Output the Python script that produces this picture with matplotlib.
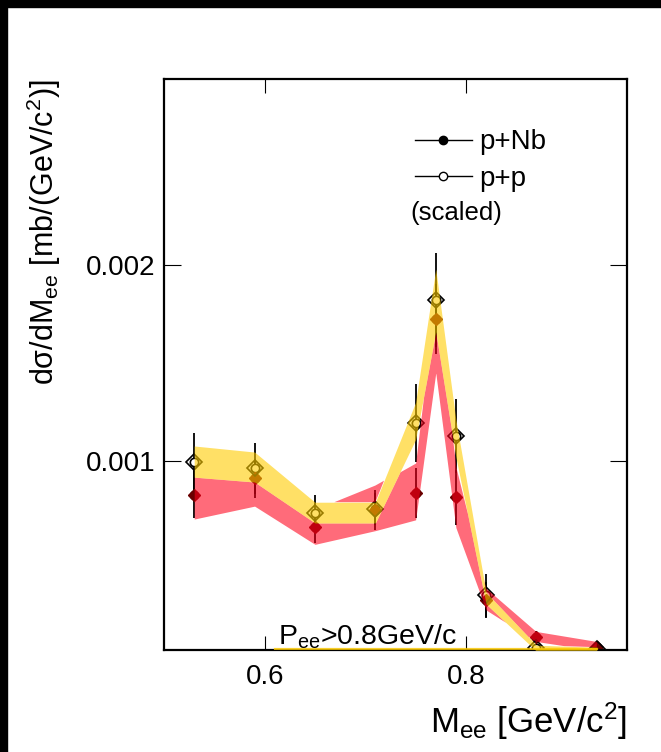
import matplotlib
matplotlib.use("Agg")
import matplotlib.pyplot as plt
import numpy as np
from matplotlib.lines import Line2D
from matplotlib.patches import Rectangle

plt.rcParams['font.family'] = ['Liberation Sans', 'DejaVu Sans']
plt.rcParams['mathtext.fontset'] = 'custom'
plt.rcParams['mathtext.rm'] = 'Liberation Sans'
plt.rcParams['mathtext.default'] = 'regular'

# bin centres (GeV/c^2)
mass = [0.53, 0.59, 0.65, 0.71, 0.75, 0.77, 0.79, 0.82, 0.87, 0.93]

# p+Nb data and stat errors
pnb = [0.000827, 0.000913, 0.000663, 0.00075, 0.000837, 0.001724, 0.000816, 0.000291, 0.000102, 0.00005]
pnb_err = [0.00012, 0.0001, 0.00008, 0.0001, 0.00013, 0.00018, 0.00014, 0.00009, 0.00003, 0.00001]
# p+p (scaled) data and stat errors
pp = [0.000995, 0.000964, 0.000735, 0.000755, 0.001194, 0.001821, 0.001128, 0.000316, 0.000045, 0.00004]
pp_err = [0.00015, 0.00013, 0.00009, 0.00008, 0.0002, 0.00024, 0.00019, 0.00011, 0.00002, 0.00001]

# systematic bands
red_lo = [0.000704, 0.00077, 0.000575, 0.000645, 0.0007, 0.00145, 0.00066, 0.00024, 0.000077, 0.00003]
red_hi = [0.00093, 0.00097, 0.00075, 0.000875, 0.00099, 0.00185, 0.00097, 0.00035, 0.000128, 0.000077]
yel_lo = [0.000918, 0.000893, 0.000684, 0.000684, 0.00111, 0.00166, 0.00102, 0.00027, 0.00003, 0.00003]
yel_hi = [0.001077, 0.001046, 0.00079, 0.00079, 0.0013, 0.00198, 0.00121, 0.00033, 0.00006, 0.00005]

# thin yellow line lying on the x axis
base_x = [0.61, 0.93]
base_y = [0.00004, 0.00004]

RED = (1.0, 0.0, 0.1)
YEL = (1.0, 0.8, 0.0)

fig = plt.figure(figsize=(6.61, 7.52), dpi=100)
ax = fig.add_axes([164/661, 1 - 650/752, 463/661, 571/752])

# data points first (bands go over them like the ROOT fill patterns)
ax.errorbar(mass, pnb, yerr=pnb_err, fmt='o', color='black', ms=6, lw=1.3,
            capsize=0, zorder=2)
ax.errorbar(mass, pp, yerr=pp_err, fmt='o', color='black', mfc='white', ms=6,
            mew=1.2, lw=1.3, capsize=0, zorder=2)
ax.plot(mass, pnb, 'D', color='#6a0000', ms=6.5, ls='none', zorder=2.5)
ax.plot(mass, pp, 'D', mfc='none', mec='black', mew=1.2, ms=8, ls='none', zorder=2.5)

# red band only where the yellow band does not sit on top of it
xg = np.linspace(mass[0], mass[-1], 3000)
rl = np.interp(xg, mass, red_lo)
rh = np.interp(xg, mass, red_hi)
yl = np.interp(xg, mass, yel_lo)
yh = np.interp(xg, mass, yel_hi)
up_lo = np.maximum(rl, yh)
ax.fill_between(xg, up_lo, rh, where=rh > up_lo, color=RED, alpha=0.58, lw=0, zorder=3)
dn_hi = np.minimum(rh, yl)
ax.fill_between(xg, rl, dn_hi, where=dn_hi > rl, color=RED, alpha=0.58, lw=0, zorder=3)
ax.fill_between(mass, yel_lo, yel_hi, color=YEL, alpha=0.6, lw=0, zorder=4)
ax.plot(base_x, base_y, color=YEL, lw=1.6, alpha=0.8, zorder=4)

ax.set_xlim(0.5, 0.96)
ax.set_ylim(0.0000357, 0.00295)
ax.set_xticks([0.6, 0.8])
ax.set_xticklabels(['0.6', '0.8'])
ax.set_yticks([0.001, 0.002])
ax.set_yticklabels(['0.001', '0.002'])

for s in ax.spines.values():
    s.set_linewidth(1.6)
ax.tick_params(axis='both', direction='in', top=True, right=True, width=0.8,
               labelsize=20, colors='black')
ax.tick_params(axis='y', length=12, pad=6)
ax.tick_params(axis='x', length=10, pad=10)

ax.set_xlabel(r'M$_{ee}$ [GeV/c$^{2}$]', fontsize=25, loc='right')
ax.xaxis.set_label_coords(1.0, -0.088)
ax.set_ylabel(r'd$\sigma$/dM$_{ee}$ [mb/(GeV/c$^{2}$)]', fontsize=22, loc='top')
ax.yaxis.set_label_coords(-0.218, 1.0)

ax.text(0.246, 0.009, r'P$_{ee}$>0.8GeV/c', transform=ax.transAxes,
        fontsize=20.5, va='baseline', ha='left', zorder=5)

handles = [Line2D([], [], color='black', lw=1.0, marker='o', ms=6),
           Line2D([], [], color='black', lw=1.0, marker='o', mfc='white', ms=6)]
ax.legend(handles, ['p+Nb', 'p+p'], loc='upper left', bbox_to_anchor=(0.542, 0.912),
          frameon=False, fontsize=20, handlelength=2.05, handletextpad=0.25,
          borderpad=0, borderaxespad=0, labelspacing=0.38, numpoints=1)
ax.text(0.533, 0.765, '(scaled)', transform=ax.transAxes, fontsize=18.5,
        va='center', ha='left')

# black strips along the top and left edges of the picture
fig.patches.append(Rectangle((0, 1 - 7/752), 1, 7/752, transform=fig.transFigure,
                             color='black', zorder=10))
fig.patches.append(Rectangle((0, 0), 7/661, 1, transform=fig.transFigure,
                             color='black', zorder=10))

fig.savefig('out.png', dpi=100)
